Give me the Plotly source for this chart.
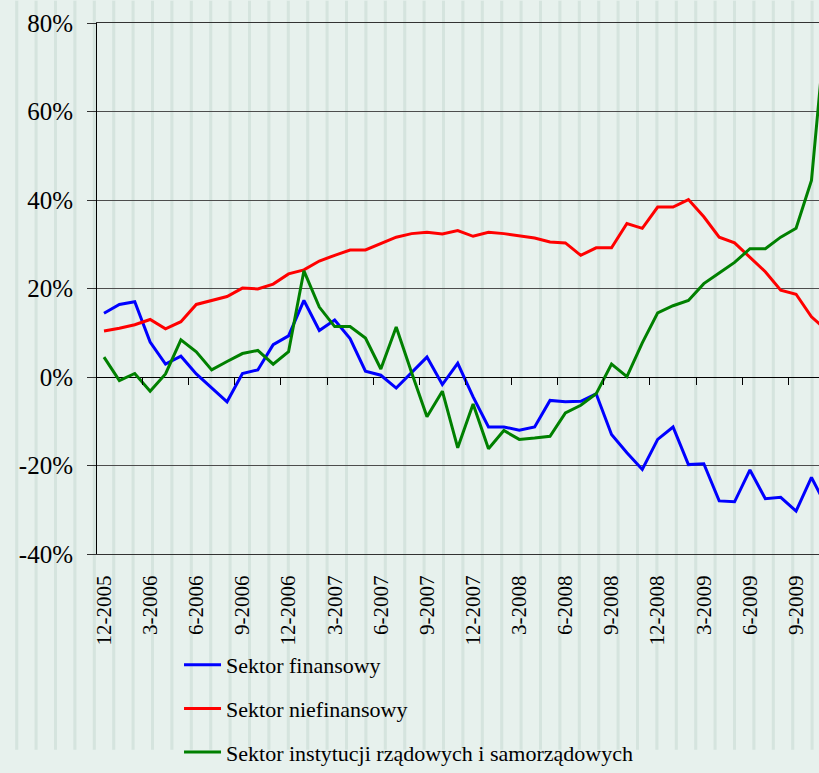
import plotly.graph_objects as go

# Monthly observations, 12-2005 .. 11-2009 (values in %)
months = list(range(48))

sektor_finansowy = [14.4, 16.4, 17.0, 7.9, 2.9, 4.7, 0.7, -2.4, -5.6, 0.8, 1.6, 7.3,
                    9.3, 17.3, 10.5, 12.9, 8.7, 1.3, 0.4, -2.5, 1.0, 4.5, -1.7, 3.1,
                    -4.5, -11.3, -11.3, -12.0, -11.3, -5.3, -5.6, -5.5, -3.8, -13.0, -17.1, -20.9,
                    -14.1, -11.3, -19.8, -19.6, -28.0, -28.2, -21.0, -27.5, -27.2, -30.3, -22.7, -29.4]

sektor_niefinansowy = [10.4, 11.0, 11.8, 13.0, 10.9, 12.5, 16.4, 17.3, 18.2, 20.1, 19.9, 21.0,
                       23.3, 24.2, 26.2, 27.5, 28.7, 28.7, 30.1, 31.6, 32.4, 32.7, 32.3, 33.1,
                       31.8, 32.7, 32.4, 31.9, 31.4, 30.5, 30.3, 27.5, 29.2, 29.2, 34.7, 33.6,
                       38.4, 38.4, 40.1, 36.2, 31.6, 30.3, 27.0, 23.8, 19.6, 18.7, 13.6, 10.5]

sektor_rzadowy = [4.5, -0.8, 0.8, -3.2, 0.7, 8.4, 5.7, 1.6, 3.5, 5.3, 6.0, 2.9,
                  5.7, 24.0, 15.8, 11.4, 11.4, 8.8, 1.8, 11.3, 1.0, -9.0, -3.2, -16.0,
                  -6.1, -16.2, -12.1, -14.1, -13.8, -13.4, -8.1, -6.4, -3.8, 2.9, 0.1, 7.7,
                  14.5, 16.1, 17.3, 21.1, 23.5, 25.9, 29.0, 29.0, 31.6, 33.6, 44.4, 82.0]

tick_positions = list(range(0, 46, 3))
tick_labels = ["12-2005", "3-2006", "6-2006", "9-2006", "12-2006", "3-2007", "6-2007", "9-2007",
               "12-2007", "3-2008", "6-2008", "9-2008", "12-2008", "3-2009", "6-2009", "9-2009"]

y_ticks = [-40, -20, 0, 20, 40, 60, 80]
y_labels = ["-40%", "-20%", "0%", "20%", "40%", "60%", "80%"]

series = [
    ("Sektor finansowy", sektor_finansowy, "#0000FF"),
    ("Sektor niefinansowy", sektor_niefinansowy, "#FF0000"),
    ("Sektor instytucji rządowych i samorządowych", sektor_rzadowy, "#008000"),
]

FONT = "Liberation Serif"
BG = "#E7F1ED"
W, H = 819, 773
L, T, B = 97, 23, 202
plot_h = H - T - B

fig = go.Figure()
for name, values, color in series:
    fig.add_trace(go.Scatter(
        x=months, y=values, name=name, mode="lines",
        line=dict(color=color, width=3),
        legendgroup=name,
    ))

# empty trace so the tick-mark axis on the 0% line gets drawn
fig.add_trace(go.Scatter(x=[], y=[], xaxis="x2", showlegend=False, hoverinfo="skip"))

# faint vertical stripes of the background texture
stripes = []
for k in range(43):
    px = 16.7 + 19.4 * k
    fx = (px - L) / (W - L)
    stripes.append(dict(type="line", xref="paper", yref="paper",
                        x0=fx, x1=fx, y0=-B / plot_h, y1=1 + T / plot_h,
                        line=dict(color="rgba(196,216,208,0.5)", width=3), layer="below"))

fig.update_layout(
    width=W, height=H,
    margin=dict(l=L, r=0, t=T, b=B),
    paper_bgcolor=BG,
    plot_bgcolor=BG,
    font=dict(family=FONT, color="black"),
    shapes=stripes,
    showlegend=True,
    legend=dict(
        x=0.1136, y=-0.170, xanchor="left", yanchor="top",
        font=dict(family=FONT, size=22, color="black"),
        bgcolor="rgba(0,0,0,0)",
        tracegroupgap=12, itemwidth=37,
    ),
    xaxis=dict(
        range=[-0.455, 46.49], automargin=False,
        tickmode="array", tickvals=tick_positions, ticktext=tick_labels,
        tickangle=-90, ticks="", ticklabelstandoff=12,
        tickfont=dict(family=FONT, size=21, color="black"),
        showgrid=False, zeroline=False,
        showline=True, linecolor="#333333", linewidth=1, mirror=True,
    ),
    xaxis2=dict(
        range=[-0.455, 46.49], overlaying="x", anchor="free", position=1 / 3,
        automargin=False,
        tickmode="array", tickvals=[2.5 + 3 * i for i in range(15)],
        ticks="outside", ticklen=7, tickcolor="black", tickwidth=1,
        showticklabels=False, showgrid=False, zeroline=False, showline=False,
    ),
    yaxis=dict(
        range=[-40, 80], automargin=False,
        tickmode="array", tickvals=y_ticks, ticktext=y_labels,
        tickfont=dict(family=FONT, size=25, color="black"),
        ticks="outside", ticklen=9, tickcolor="#333333",
        ticklabelstandoff=9,
        showgrid=True, gridcolor="#4d4d4d", gridwidth=1,
        zeroline=True, zerolinecolor="black", zerolinewidth=1,
        showline=True, linecolor="black", linewidth=1,
    ),
)

# page body has a default margin; drop it so the figure fills the window
page_fix = ("document.body.style.margin='0';"
            "document.body.style.background='" + BG + "';"
            "document.body.style.overflow='hidden';"
            "document.documentElement.style.overflow='hidden';")
fig.write_html("out.html", config={"displayModeBar": False}, post_script=page_fix)
